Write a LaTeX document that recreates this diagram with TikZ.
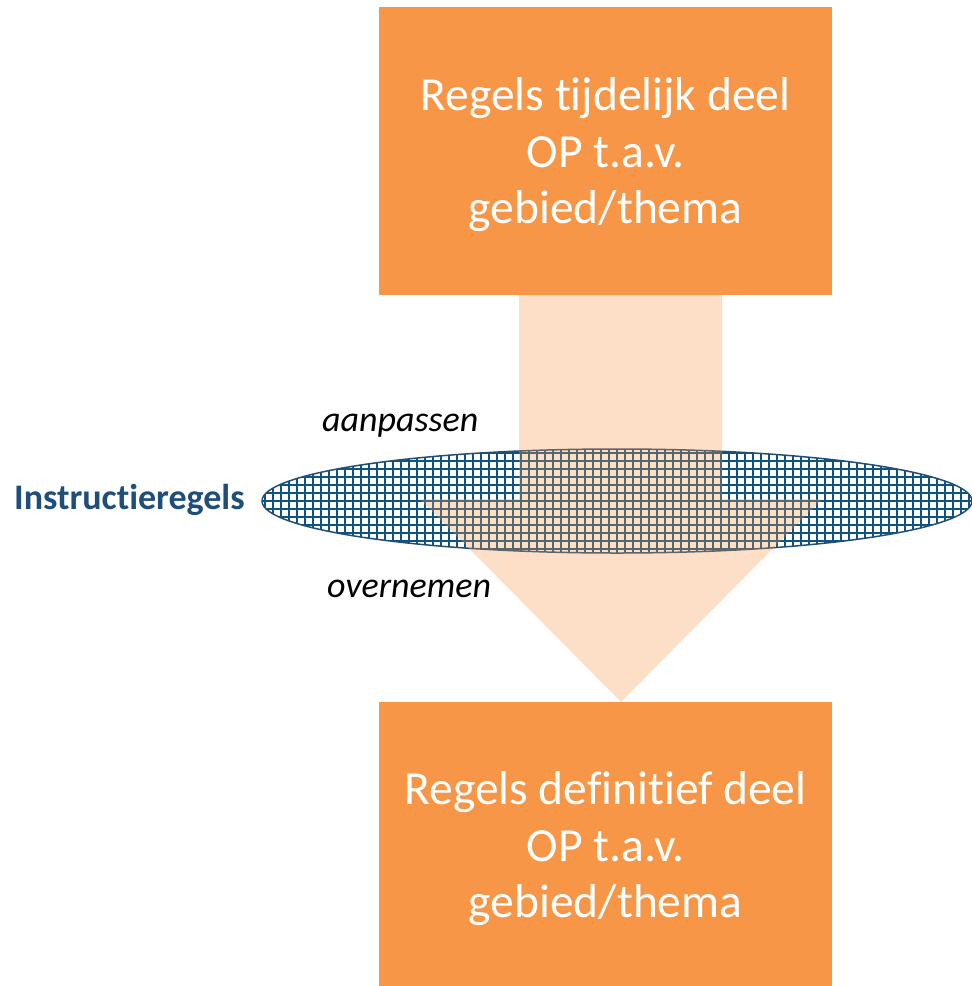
\documentclass[tikz,border=0pt]{standalone}
\usepackage{fontspec}
\setmainfont{Carlito}[RawFeature={-liga;-clig;-calt;-dlig}]
\usetikzlibrary{shapes.geometric,calc}
\definecolor{boxorange}{RGB}{247,150,70}
\definecolor{gridblue}{RGB}{14,84,128}
\definecolor{edgeblue}{RGB}{31,78,121}
\tikzset{
  regelbox/.style={rectangle, fill=boxorange, draw=none, minimum width=453pt,
    inner sep=0pt, outer sep=0pt},
  boxtext/.style={text=white, align=center, inner sep=0pt,
    font=\fontsize{47.5}{56.5}\selectfont},
  instrell/.style={ellipse, fill=white, draw=edgeblue, line width=1.5pt,
    minimum width=710pt, minimum height=104pt, inner sep=0pt, outer sep=0pt,
    path picture={\draw[gridblue, line width=2.5pt]
      (path picture bounding box.south west) grid[step=8pt]
      (path picture bounding box.north east);}},
  flowarrow/.style={fill=boxorange, fill opacity=0.3, draw=none},
  italiclabel/.style={font=\fontsize{36}{40}\selectfont\itshape, text=black, inner sep=0pt},
  instrlabel/.style={font=\fontsize{36}{40}\selectfont\bfseries, text=edgeblue, inner sep=0pt}
}
\begin{document}
\begin{tikzpicture}[x=1pt,y=-1pt]
\useasboundingbox (0,0) rectangle (972,986);
% boxes
\node[regelbox, minimum height=288pt] (top) at (605.5,151) {};
\node[boxtext] (toptext) at ($(top.center)+(0,4)$) {Regels tijdelijk deel\\OP t.a.v.\\gebied/thema};
\node[regelbox, minimum height=284pt] (bot) at (605.5,844) {};
\node[boxtext] (bottext) at ($(bot.center)+(0,5)$) {Regels definitief deel\\OP t.a.v.\\gebied/thema};
% ellipse
\node[instrell] (ell) at (617,501) {};
% block arrow
\coordinate (hb) at ($(top.south)+(0,204)$);
\fill[flowarrow] ($(top.south)+(-86.5,0)$) -- ($(top.south)+(116.5,0)$)
  -- ($(hb)+(116.5,0)$) -- ($(hb)+(216.5,0)$) -- ($(bot.north)+(15.5,0)$)
  -- ($(hb)+(-185.5,0)$) -- ($(hb)+(-86.5,0)$) -- cycle;
% labels
\node[instrlabel, anchor=base west] (instr) at (14,509) {Instructieregels};
\node[italiclabel, anchor=base west] (aanp) at (322,431) {aanpassen};
\node[italiclabel, anchor=base west] (overn) at (327,597) {overnemen};
\end{tikzpicture}
\end{document}
